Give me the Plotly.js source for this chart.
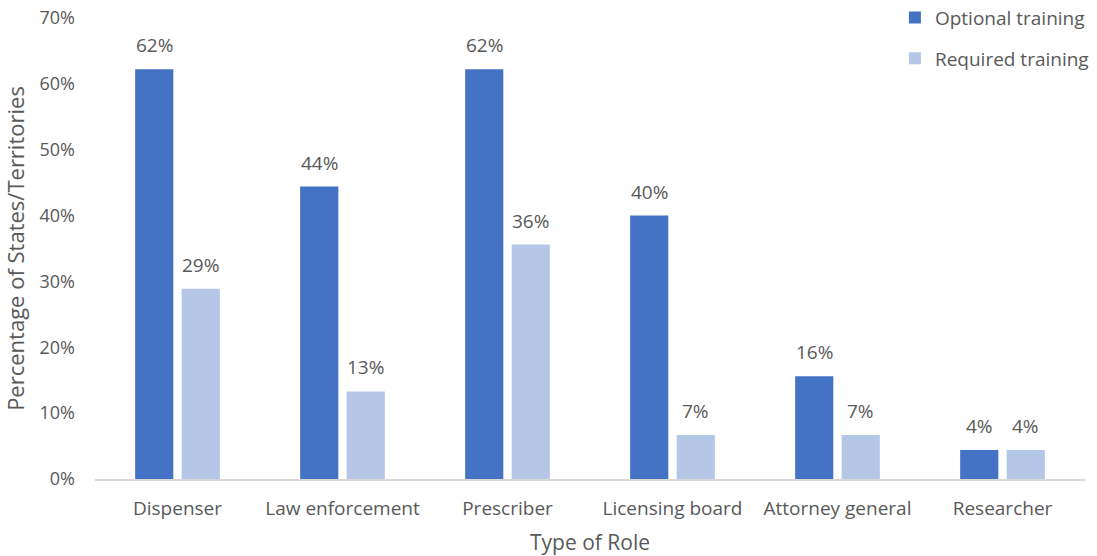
<!DOCTYPE html>
<html>
<head>
<meta charset="utf-8">
<script src="https://cdn.plot.ly/plotly-3.0.1.min.js"></script>
<style>html,body{margin:0;padding:0;background:#fff;}#chart{width:1097px;height:556px;}</style>
</head>
<body>
<div id="chart"></div>
<script>
const categories = ["Dispenser", "Law enforcement", "Prescriber", "Licensing board", "Attorney general", "Researcher"];
const optionalTraining = [0.622, 0.444, 0.622, 0.400, 0.156, 0.044];
const requiredTraining = [0.289, 0.133, 0.356, 0.067, 0.067, 0.044];
const seriesNames = ["Optional training", "Required training"];

const font = "'Open Sans', 'Noto Sans', sans-serif";
const grey = "#595959";
const colors = ["#4472C4", "#B4C7E7"];
const series = [optionalTraining, requiredTraining];

const traces = series.map((vals, k) => ({
  type: "bar", name: seriesNames[k], x: categories, y: vals, legendgroup: "g" + k,
  marker: {color: colors[k]}, hoverinfo: "skip"
}));

// data labels placed through the axis scales (category + value), offset to each bar of the group
const bargap = 0.436;
const plotWidth = 1097 - 95 - 12;
const slotPx = plotWidth / categories.length * (1 - bargap) / 2;
const annotations = [];
series.forEach((vals, k) => {
  vals.forEach((v, i) => {
    annotations.push({
      x: categories[i], y: v, xref: "x", yref: "y",
      text: Math.round(v * 100) + "%", showarrow: false,
      yanchor: "bottom", yshift: 9, xshift: (k - 0.5) * slotPx,
      font: {size: 19, color: grey, family: font}
    });
  });
});

const layout = {
  width: 1097, height: 556,
  margin: {l: 95, r: 12, t: 18, b: 77, autoexpand: false},
  paper_bgcolor: "#fff", plot_bgcolor: "#fff",
  font: {family: font, color: grey, size: 19},
  barmode: "group", bargap: bargap, bargroupgap: 0.18,
  showlegend: true,
  annotations: annotations,
  legend: {x: 1.009, xanchor: "right", y: 1.042, yanchor: "top", traceorder: "grouped",
           tracegroupgap: 13, itemwidth: 30, font: {size: 19, color: grey, family: font}, bgcolor: "rgba(0,0,0,0)"},
  xaxis: {showgrid: false, showline: true, linecolor: "#D9D9D9", linewidth: 1.5, ticks: "",
          ticklabelstandoff: 12, tickfont: {size: 19, color: grey}, automargin: false,
          title: {text: "Type of Role", font: {size: 21, color: grey}, standoff: 16}},
  yaxis: {range: [0, 0.7], dtick: 0.1, tickformat: ".0%", showgrid: false, zeroline: false,
          showline: false, ticks: "", ticklen: 0, ticklabelstandoff: 19, tickfont: {size: 18, color: grey}, automargin: false,
          title: {text: "Percentage of States/Territories", font: {size: 22, color: grey}, standoff: 9}}
};

Plotly.newPlot("chart", traces, layout, {displayModeBar: false, staticPlot: true});
</script>
</body>
</html>
